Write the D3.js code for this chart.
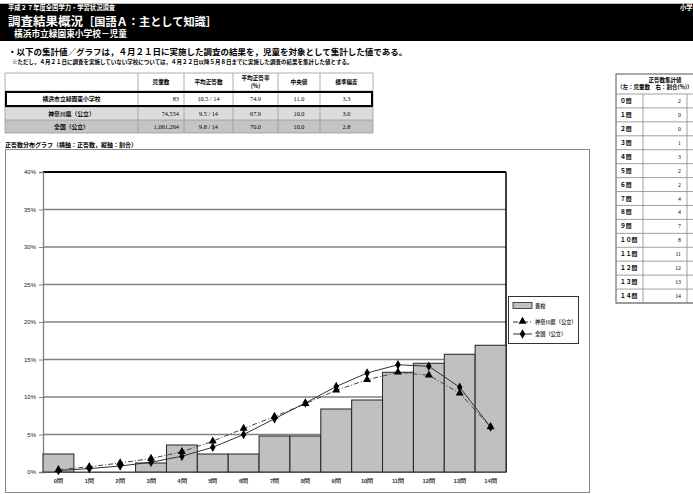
<!DOCTYPE html>
<html><head><meta charset="utf-8">
<script src="https://cdn.jsdelivr.net/npm/d3@7/dist/d3.min.js"></script>
<style>
html,body{margin:0;padding:0;background:#fff;}
svg{display:block;font-family:"Noto Sans CJK JP","Noto Sans",sans-serif;}
</style></head>
<body>
<svg id="c" width="693" height="494"></svg>
<script>
// ---- data ----
const categories = ["0問","1問","2問","3問","4問","5問","6問","7問","8問","9問","10問","11問","12問","13問","14問"];
const tableCategories = ["０問","１問","２問","３問","４問","５問","６問","７問","８問","９問","１０問","１１問","１２問","１３問","１４問"];
const schoolCounts = [2,0,0,1,3,2,2,4,4,7,8,11,12,13,14];
const schoolPct = [2.4,0.0,0.0,1.2,3.6,2.4,2.4,4.8,4.8,8.4,9.6,13.3,14.5,15.7,16.9];
const kanagawaPct = [0.3,0.7,1.2,1.8,2.7,4.1,5.8,7.4,9.1,10.9,12.3,13.3,12.9,10.5,6.0];
const nationalPct = [0.2,0.45,0.8,1.3,2.1,3.3,5.0,7.1,9.2,11.4,13.2,14.3,14.1,11.3,6.0];
const yTicks = [0,5,10,15,20,25,30,35,40];
const seriesNames = ["貴校","神奈川県（公立）","全国（公立）"];
const summaryHeaders = ["児童数","平均正答数","平均正答率\n(%)","中央値","標準偏差"];
const summaryLabels = ["横浜市立緑園東小学校","神奈川県（公立）","全国（公立）"];
const summaryCounts = ["83","74,554","1,061,264"];
const summaryMeans = ["10.5 / 14","9.5 / 14","9.8 / 14"];
const summaryRates = ["74.9","67.9","70.0"];
const summaryMedians = ["11.0","10.0","10.0"];
const summarySD = ["3.3","3.0","2.8"];

const svg = d3.select("#c");

// ---- header ----
svg.append("rect").attr("x",0).attr("y",4).attr("width",693).attr("height",37).attr("fill","#000");
svg.append("line").attr("x1",0).attr("x2",693).attr("y1",3.5).attr("y2",3.5).attr("stroke","#bbb");
svg.append("text").attr("x",8).attr("y",9.8).attr("fill","#fff").attr("font-size",6.3).attr("font-weight","bold")
  .text("平成２７年度全国学力・学習状況調査");
svg.append("text").attr("x",680).attr("y",9.8).attr("fill","#fff").attr("font-size",6.3).attr("font-weight","bold")
  .text("小学");
svg.append("text").attr("x",8).attr("y",25.5).attr("fill","#fff").attr("font-size",12).attr("font-weight","bold")
  .attr("textLength",75).attr("lengthAdjust","spacingAndGlyphs")
  .text("調査結果概況");
svg.append("text").attr("x",83).attr("y",25.5).attr("fill","#fff").attr("font-size",11.5).attr("font-weight","bold")
  .attr("textLength",134).attr("lengthAdjust","spacingAndGlyphs")
  .text("［国語Ａ：主として知識］");
svg.append("text").attr("x",14).attr("y",37).attr("fill","#fff").attr("font-size",8.7).attr("font-weight","bold")
  .text("横浜市立緑園東小学校－児童");

svg.append("text").attr("x",8).attr("y",55).attr("font-size",8.5).attr("font-weight","bold")
  .text("・以下の集計値／グラフは，４月２１日に実施した調査の結果を，児童を対象として集計した値である。");
svg.append("text").attr("x",12).attr("y",64).attr("font-size",5.5).attr("font-weight","bold")
  .text("※ただし，４月２１日に調査を実施していない学校については，４月２２日以降５月８日までに実施した調査の結果を集計した値とする。");

// ---- summary table ----
const colX = [5,138,184,233,278,320,373];
const rowY = [73,91,107,120,133];
const rowFill = ["#fff","#fff","#dcdcdc","#c4c4c4"];
rowFill.forEach((f,i)=>{
  svg.append("rect").attr("x",colX[0]).attr("y",rowY[i]).attr("width",colX[6]-colX[0]).attr("height",rowY[i+1]-rowY[i]).attr("fill",f);
});
const tg = svg.append("g").attr("stroke","#999").attr("stroke-width",0.8);
rowY.forEach(y=>tg.append("line").attr("x1",colX[0]).attr("x2",colX[6]).attr("y1",y).attr("y2",y));
colX.forEach(x=>tg.append("line").attr("x1",x).attr("x2",x).attr("y1",rowY[0]).attr("y2",rowY[4]));
svg.append("rect").attr("x",colX[0]+1).attr("y",rowY[1]+1).attr("width",colX[6]-colX[0]-2).attr("height",rowY[2]-rowY[1]-2)
  .attr("fill","none").attr("stroke","#000").attr("stroke-width",2);
summaryHeaders.forEach((h,i)=>{
  const cx=(colX[i+1]+colX[i+2])/2;
  const lines=h.split("\n");
  lines.forEach((l,j)=>{
    svg.append("text").attr("x",cx).attr("y",(rowY[0]+rowY[1])/2+2-(lines.length-1)*4+j*8).attr("text-anchor","middle")
      .attr("font-size",5.6).attr("font-weight","bold").text(l);
  });
});
const cols=[summaryCounts,summaryMeans,summaryRates,summaryMedians,summarySD];
summaryLabels.forEach((l,r)=>{
  const cy=(rowY[r+1]+rowY[r+2])/2+2;
  svg.append("text").attr("x",(colX[0]+colX[1])/2).attr("y",cy).attr("text-anchor","middle").attr("font-size",5.8).attr("font-weight","bold").text(l);
  cols.forEach((c,i)=>{
    const t=svg.append("text").attr("y",cy).attr("font-size",6.3).attr("font-family","Liberation Serif,serif").text(c[r]);
    if(i===0) t.attr("x",colX[2]-5).attr("text-anchor","end");
    else t.attr("x",(colX[i+1]+colX[i+2])/2).attr("text-anchor","middle");
  });
});

// ---- right table ----
const rx=[616,643,687,740];
const rTop=74, rHead=94, rRow=(303-94)/15;
const rg=svg.append("g");
rg.append("rect").attr("x",rx[0]).attr("y",rTop).attr("width",rx[3]-rx[0]).attr("height",303-rTop).attr("fill","#fff").attr("stroke","#555").attr("stroke-width",1);
for(let i=0;i<=15;i++){
  rg.append("line").attr("x1",rx[0]).attr("x2",rx[3]).attr("y1",rHead+i*rRow).attr("y2",rHead+i*rRow).attr("stroke","#888").attr("stroke-width",0.8);
}
[rx[1],rx[2]].forEach(x=>rg.append("line").attr("x1",x).attr("x2",x).attr("y1",rHead).attr("y2",303).attr("stroke","#888").attr("stroke-width",0.8));
rg.append("text").attr("x",665).attr("y",82).attr("text-anchor","middle").attr("font-size",5.5).attr("font-weight","bold").text("正答数集計値");
rg.append("text").attr("x",617).attr("y",89).attr("font-size",5.5).attr("font-weight","bold").text("（左：児童数　右：割合(%)）");
tableCategories.forEach((c,i)=>{
  const cy=rHead+i*rRow+rRow/2+2;
  rg.append("text").attr("x",rx[0]+4).attr("y",cy).attr("font-size",5.8).attr("font-weight","bold").text(c);
  rg.append("text").attr("x",rx[2]-6).attr("y",cy).attr("text-anchor","end").attr("font-size",5.8).attr("font-family","Liberation Serif,serif").text(schoolCounts[i]);
});

// ---- chart ----
svg.append("text").attr("x",5).attr("y",147).attr("font-size",6).attr("font-weight","bold")
  .text("正答数分布グラフ（横軸：正答数，縦軸：割合）");
svg.append("rect").attr("x",5.5).attr("y",149.5).attr("width",584).attr("height",343).attr("fill","#fff").attr("stroke","#888").attr("stroke-width",1);

const x=d3.scaleBand().domain(categories).range([43,506]).padding(0);
const y=d3.scaleLinear().domain([0,40]).range([472,172]);

const grid=svg.append("g");
yTicks.forEach(t=>{
  grid.append("line").attr("x1",43).attr("x2",506).attr("y1",y(t)).attr("y2",y(t))
    .attr("stroke",t===40?"#000":"#808080").attr("stroke-width",t===40?2:1.3);
});
const yAxis=d3.axisLeft(y).tickValues(yTicks).tickFormat(d=>d+"%").tickSize(4).tickPadding(3);
const ya=svg.append("g").attr("transform","translate(43,0)").call(yAxis);
ya.select(".domain").attr("stroke","#808080").attr("stroke-width",1.3);
ya.selectAll(".tick line").attr("stroke","#808080");
ya.selectAll("text").attr("font-size",6).attr("font-family","Liberation Sans,sans-serif").attr("fill","#222");
svg.append("line").attr("x1",506).attr("x2",506).attr("y1",172).attr("y2",472).attr("stroke","#000").attr("stroke-width",1.5);

svg.append("g").selectAll("rect").data(categories).join("rect")
  .attr("x",d=>x(d)).attr("width",x.bandwidth())
  .attr("y",(d,i)=>y(schoolPct[i])).attr("height",(d,i)=>y(0)-y(schoolPct[i]))
  .attr("fill","#c0c0c0").attr("stroke","#222").attr("stroke-width",1);

const xAxis=d3.axisBottom(x).tickSize(0).tickPadding(7);
const xa=svg.append("g").attr("transform","translate(0,472)").call(xAxis);
xa.select(".domain").attr("stroke","#555").attr("stroke-width",1);
xa.selectAll("text").attr("font-size",5.8).attr("font-weight","bold").attr("fill","#333");

const cx=d=>x(d)+x.bandwidth()/2;
const line=arr=>d3.line().x((d,i)=>cx(categories[i])).y(d=>y(d))(arr);
svg.append("path").attr("d",line(kanagawaPct)).attr("fill","none").attr("stroke","#444").attr("stroke-width",1).attr("stroke-dasharray","5,2,1,2");
svg.append("path").attr("d",line(nationalPct)).attr("fill","none").attr("stroke","#333").attr("stroke-width",1);
const tri=d3.symbol().type(d3.symbolTriangle).size(28);
const dia=d3.symbol().type(d3.symbolDiamond).size(26);
svg.append("g").selectAll("path").data(kanagawaPct).join("path")
  .attr("d",tri).attr("transform",(d,i)=>`translate(${cx(categories[i])},${y(d)})`).attr("fill","#000");
svg.append("g").selectAll("path").data(nationalPct).join("path")
  .attr("d",dia).attr("transform",(d,i)=>`translate(${cx(categories[i])},${y(d)})`).attr("fill","#000");

// legend
const lg=svg.append("g");
lg.append("rect").attr("x",508.5).attr("y",296.5).attr("width",70).attr("height",47).attr("fill","#fff").attr("stroke","#333").attr("stroke-width",1);
lg.append("rect").attr("x",513).attr("y",302.5).attr("width",19).attr("height",6).attr("fill","#c0c0c0").attr("stroke","#222").attr("stroke-width",0.8);
lg.append("line").attr("x1",513).attr("x2",532).attr("y1",322).attr("y2",322).attr("stroke","#333").attr("stroke-dasharray","5,2,1,2");
lg.append("path").attr("d",tri).attr("transform","translate(522.5,321.5)");
lg.append("line").attr("x1",513).attr("x2",532).attr("y1",334).attr("y2",334).attr("stroke","#333");
lg.append("path").attr("d",dia).attr("transform","translate(522.5,334)");
[307.5,324,336].forEach((yy,i)=>{
  lg.append("text").attr("x",535).attr("y",yy).attr("font-size",5.2).attr("font-weight","bold").attr("fill","#333").text(seriesNames[i]);
});
</script>
</body></html>
